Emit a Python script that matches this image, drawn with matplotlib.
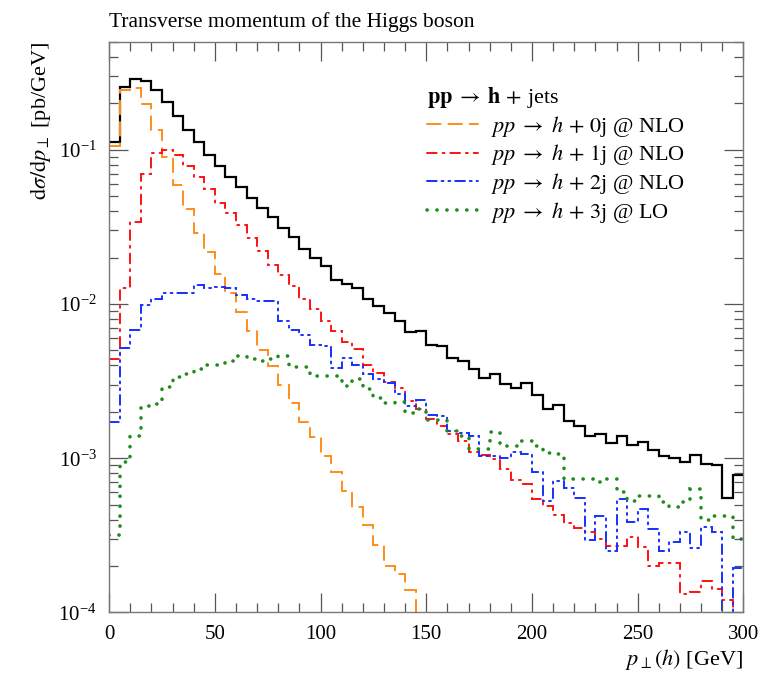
import numpy as np
import matplotlib
matplotlib.use('Agg')
import matplotlib.pyplot as plt
from matplotlib.lines import Line2D

plt.rcParams['font.family'] = ['Liberation Serif', 'DejaVu Serif']
plt.rcParams['mathtext.fontset'] = 'stix'

# bins de 5 GeV entre 0 e 300 GeV
bordas = np.arange(0, 305, 5)

total = [0.112, 0.255, 0.289, 0.279, 0.243, 0.203, 0.165, 0.135, 0.112, 0.093,
         0.078, 0.067, 0.0575, 0.0484, 0.042, 0.0365, 0.031, 0.027, 0.0227, 0.0198,
         0.0175, 0.0144, 0.0135, 0.0127, 0.0108, 0.0097, 0.0087, 0.0078, 0.0066, 0.0067,
         0.00546, 0.00532, 0.00448, 0.00426, 0.00376, 0.00329, 0.00349, 0.00305, 0.00286, 0.00309,
         0.00256, 0.00207, 0.00221, 0.00174, 0.00162, 0.00139, 0.00143, 0.00126, 0.00139, 0.00121,
         0.00127, 0.00113, 0.00103, 0.00101, 0.00094, 0.00105, 0.00092, 0.0009, 0.00055, 0.00078]

h0j = [0.105, 0.245, 0.25, 0.198, 0.134, 0.090, 0.059, 0.041, 0.029, 0.0216,
       0.0156, 0.0118, 0.0089, 0.00665, 0.0050, 0.00395, 0.00297, 0.00229, 0.00172, 0.00138,
       0.00104, 0.00082, 0.000615, 0.00048, 0.00037, 0.000274, 0.000201, 0.000178, 0.000139, 0.00006]

h1j = [0.0044, 0.0127, 0.0342, 0.070, 0.095, 0.100, 0.092, 0.079, 0.067, 0.056,
       0.0454, 0.0387, 0.0326, 0.0267, 0.0222, 0.0179, 0.0155, 0.0131, 0.0108, 0.0093,
       0.0078, 0.00665, 0.00565, 0.00507, 0.00405, 0.00358, 0.00311, 0.00286, 0.00235, 0.00207,
       0.00179, 0.00162, 0.00143, 0.00129, 0.0011, 0.00105, 0.00099, 0.00085, 0.00072, 0.00068,
       0.00054, 0.00049, 0.00043, 0.00038, 0.000354, 0.00033, 0.0003, 0.00027, 0.00027, 0.00031,
       0.000265, 0.0002, 0.00021, 0.00021, 0.000132, 0.000135, 0.000161, 0.000142, 0.00012, 0.00008]

h2j = [0.00172, 0.0052, 0.00682, 0.0099, 0.0107, 0.0118, 0.0118, 0.0118, 0.0133, 0.0127,
       0.0129, 0.0127, 0.0115, 0.0107, 0.0104, 0.0104, 0.0078, 0.0068, 0.0063, 0.00546,
       0.0053, 0.00386, 0.00448, 0.00405, 0.00349, 0.00327, 0.00309, 0.00259, 0.00218, 0.00238,
       0.00192, 0.00188, 0.0015, 0.00146, 0.0014, 0.00104, 0.00104, 0.001, 0.00109, 0.00107,
       0.00081, 0.00053, 0.00071, 0.00064, 0.00055, 0.000296, 0.000424, 0.000252, 0.00054, 0.000384,
       0.00047, 0.00035, 0.00025, 0.000288, 0.00033, 0.00026, 0.000356, 0.00033, 0.00007, 0.000194]

h3j = [0.000318, 0.00094, 0.00139, 0.00218, 0.00223, 0.0029, 0.00337, 0.00349, 0.00376, 0.00401,
       0.00405, 0.0043, 0.00463, 0.0044, 0.00425, 0.0044, 0.00463, 0.0039, 0.0039, 0.0034,
       0.0034, 0.0034, 0.00293, 0.00324, 0.00282, 0.00247, 0.00227, 0.0023, 0.00197, 0.00207,
       0.00177, 0.00177, 0.0015, 0.00139, 0.00114, 0.00114, 0.00147, 0.0012, 0.0012, 0.00129,
       0.0012, 0.00108, 0.00106, 0.00073, 0.00073, 0.00073, 0.0007, 0.00073, 0.0006, 0.00053,
       0.00057, 0.00057, 0.00052, 0.00048, 0.00052, 0.00063, 0.0004, 0.00042, 0.00042, 0.0003]

rotulos = [r'$pp \;\rightarrow\; h \,+\, 0$j @ NLO',
           r'$pp \;\rightarrow\; h \,+\, 1$j @ NLO',
           r'$pp \;\rightarrow\; h \,+\, 2$j @ NLO',
           r'$pp \;\rightarrow\; h \,+\, 3$j @ LO']

# estilos: (cor, espessura, tracejado)
estilos = [('#ff8c1a', 1.4, (0, (7, 4))),
           ('#ff1010', 1.4, (0, (5, 3, 1, 3))),
           ('#1530ff', 1.4, (0, (5, 2.5, 1, 2.5, 1, 2.5))),
           ('#1f8c1f', 2.6, (0, (0.05, 2.7)))]

fig = plt.figure(figsize=(7.8, 6.76), dpi=100)
ax = fig.add_axes([0.140, 0.094, 0.813, 0.844])

ax.stairs(total, bordas, baseline=None, color='black', linewidth=1.6)
series = [h0j, h1j, h2j, h3j]
proxies = []
for dados, (cor, lw, ls) in zip(series, estilos):
    ax.stairs(dados, bordas[:len(dados) + 1], baseline=None, color=cor, linewidth=lw,
              linestyle=ls, capstyle='round')
    proxies.append(Line2D([], [], color=cor, linewidth=lw, linestyle=ls,
                          dash_capstyle='round'))

ax.set_yscale('log')
ax.set_xlim(0, 300)
ax.set_ylim(1e-4, 0.5)
ax.set_xticks([0, 50, 100, 150, 200, 250, 300])
ax.set_xticks(np.arange(0, 301, 10), minor=True)

ax.tick_params(which='both', direction='in', top=True, right=True, labelsize=15, color='#555555')
ax.tick_params(which='major', length=14, width=0.9)
ax.tick_params(which='minor', length=6.5, width=0.9)
ax.tick_params(axis='x', which='major', pad=9)
ax.tick_params(axis='y', which='major', pad=9)
for s in ax.spines.values():
    s.set_color('#777777')
    s.set_linewidth(1.0)

ax.set_xlabel(r'$p_\perp(h)$ [GeV]', fontsize=16, loc='right', labelpad=2)
ax.set_ylabel(r'$\mathrm{d}\sigma/\mathrm{d}p_\perp$ [pb/GeV]', fontsize=16, loc='top', labelpad=4)
ax.set_title('Transverse momentum of the Higgs boson', fontsize=15.5, loc='left', pad=11)

leg = ax.legend(proxies, rotulos, loc='upper right', bbox_to_anchor=(0.94, 0.96), frameon=False,
                fontsize=16, handlelength=2.3, labelspacing=0.17, handletextpad=0.6,
                title=r'$\mathbf{pp} \;\rightarrow\; \mathbf{h} \,+\, $jets', title_fontsize=16)
leg._legend_box.align = 'left'

fig.savefig('out.png', dpi=100)
